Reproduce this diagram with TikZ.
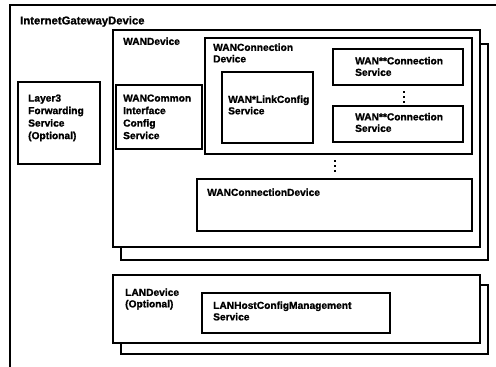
\documentclass[tikz,border=0pt]{standalone}
\usepackage{fontspec}
\setmainfont{Liberation Sans}[BoldFeatures={FakeBold=1.2}]
\begin{document}
\begin{tikzpicture}[x=1pt,y=-1pt,
  box/.style={draw, line width=1.7pt, fill=white},
  lbl/.style={font=\bfseries\fontsize{10.2}{12.5}\selectfont, align=left, anchor=north west, inner sep=0pt},
  two/.style={lbl, font=\bfseries\fontsize{10.2}{11.5}\selectfont},
  vdot/.style={fill=black, minimum size=1.8pt, inner sep=0pt}]
\useasboundingbox (0,0) rectangle (496,367);
\clip (0,0) rectangle (496,367);
% outer device
\draw[box, line width=1.4pt] (10,5) rectangle (510,380);
\node[lbl, font=\bfseries\fontsize{11.3}{12}\selectfont] (igd) at (20,16) {InternetGatewayDevice};
% Layer3
\draw[box] (18,82) rectangle (100,164);
\node[lbl] (l3) at (28,94.3) {Layer3\\Forwarding\\Service\\(Optional)};
% WANDevice stack
\draw[box] (121,44) rectangle (488,260);
\draw[box] (113,30) rectangle (480,247);
\node[lbl] (wand) at (123,37.3) {WANDevice};
% WANCommon
\draw[box] (116,85) rectangle (202,149);
\node[lbl] (wcic) at (123,94.3) {WANCommon\\Interface\\Config\\Service};
% WANConnectionDevice
\draw[box] (205,38) rectangle (472,154);
\node[two] (wcd) at (213,43.3) {WANConnection\\Device};
% WAN*LinkConfig
\draw[box] (222,72) rectangle (313,143);
\node[two] (wlc) at (228,95.3) {WAN*LinkConfig\\Service};
% WAN**Connection 1
\draw[box] (333,49) rectangle (463,85);
\node[two] (wc1) at (355,56.8) {WAN**Connection\\Service};
\foreach \yy [count=\i] in {92,97,102} \node[vdot] (da\i) at (404,\yy) {};
% WAN**Connection 2
\draw[box] (333,106) rectangle (463,142);
\node[two] (wc2) at (355,112.8) {WAN**Connection\\Service};
\foreach \yy [count=\i] in {161,166,171} \node[vdot] (db\i) at (335,\yy) {};
% second WANConnectionDevice
\draw[box] (197,179) rectangle (472,231);
\node[lbl] (wcd2) at (207,188.3) {WANConnectionDevice};
% LANDevice stack
\draw[box] (121,285) rectangle (488,354);
\draw[box] (113,275) rectangle (480,343);
\node[two] (land) at (125,288.3) {LANDevice\\(Optional)};
% LANHostConfigManagement
\draw[box] (202,293) rectangle (390,333);
\node[two] (lhcm) at (213,301.3) {LANHostConfigManagement\\Service};
\end{tikzpicture}
\end{document}
